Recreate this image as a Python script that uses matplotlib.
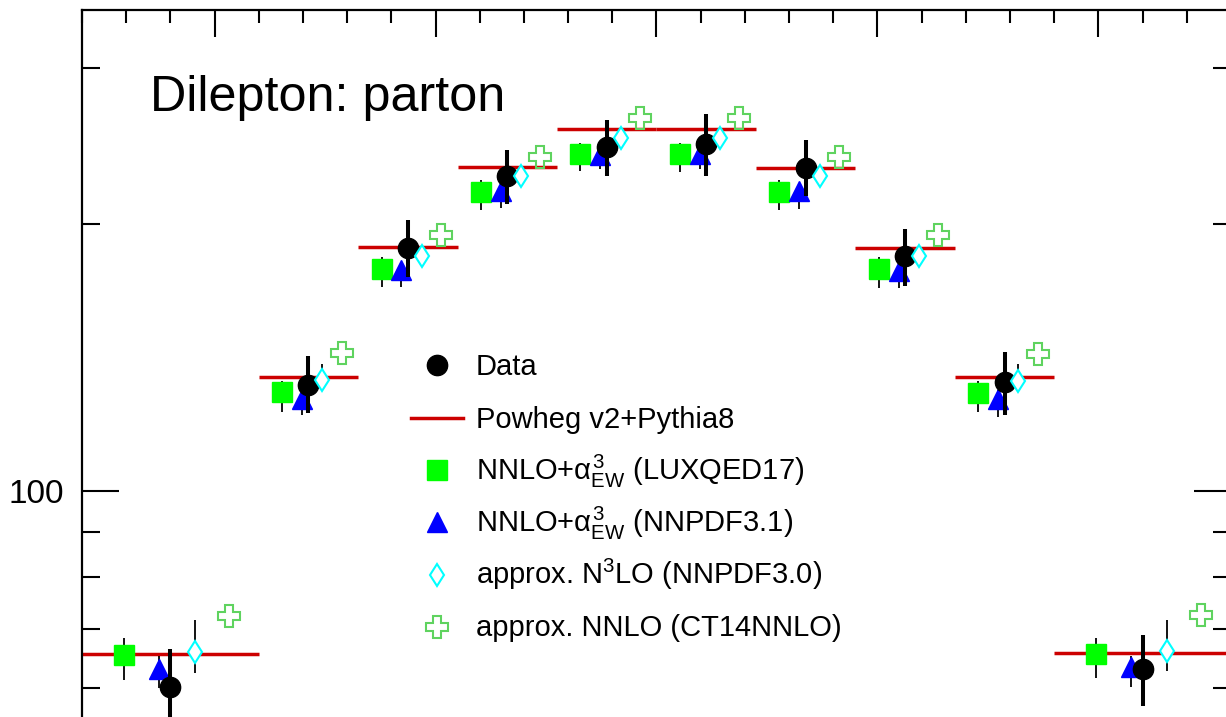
import numpy as np
import matplotlib
matplotlib.use("Agg")
import matplotlib.pyplot as plt
from matplotlib.lines import Line2D
from matplotlib.ticker import LogLocator, NullFormatter, FixedLocator, MultipleLocator

# ---------------- data ----------------
bin_edges = [-2.6, -1.8, -1.35, -0.9, -0.45, 0.0, 0.45, 0.9, 1.35, 1.8, 2.6]

data = [60.1, 131.9, 188.1, 226.7, 244.6, 246.7, 231.8, 184.1, 132.8, 63.1]
data_up = [66.4, 142.0, 202.1, 242.9, 262.6, 266.7, 248.8, 197.8, 143.6, 68.8]
data_dn = [54.2, 122.4, 174.5, 210.7, 226.7, 226.8, 215.1, 170.3, 121.8, 57.3]

powheg = [65.6, 134.6, 188.6, 232.4, 256.1, 256.5, 231.8, 188.1, 134.4, 65.7]

luxqed = [65.3, 129.3, 178.3, 217.6, 240.4, 240.4, 217.6, 178.3, 129.2, 65.5]
luxqed_up = [68.4, 133.1, 183.8, 224.3, 246.9, 246.9, 224.7, 183.8, 133.1, 68.4]
luxqed_dn = [61.3, 122.8, 169.9, 207.4, 229.6, 229.2, 207.4, 169.7, 122.7, 61.5]

nnpdf31 = [63.1, 127.2, 177.6, 217.9, 239.3, 239.9, 217.9, 177.0, 127.1, 63.3]
nnpdf31_up = [65.2, 130.0, 181.3, 222.6, 243.7, 244.4, 222.6, 180.8, 130.0, 65.2]
nnpdf31_dn = [60.0, 121.8, 169.9, 208.5, 230.8, 230.8, 208.4, 169.7, 121.3, 60.1]

n3lo = [65.9, 133.4, 184.3, 226.9, 250.1, 250.0, 226.7, 184.3, 133.2, 66.1]
n3lo_up = [71.5, 139.1, 188.5, 232.0, 255.4, 255.4, 232.0, 188.5, 139.1, 71.6]
n3lo_dn = [62.4, 130.3, 180.3, 222.0, 245.0, 245.0, 222.0, 180.3, 130.2, 62.7]

ct14 = [72.3, 143.2, 194.8, 238.3, 263.3, 263.3, 238.3, 194.8, 143.0, 72.5]

labels = ["Data", "Powheg v2+Pythia8",
          r"NNLO+$\alpha^{3}_{EW}$ (LUXQED17)",
          r"NNLO+$\alpha^{3}_{EW}$ (NNPDF3.1)",
          r"approx. N$^{3}$LO (NNPDF3.0)",
          "approx. NNLO (CT14NNLO)"]
title = "Dilepton: parton"
y_label_ticks = [100]
y_label_text = ["100"]

# ---------------- style ----------------
plt.rcParams['font.family'] = ['Liberation Sans', 'DejaVu Sans']
plt.rcParams['mathtext.fontset'] = 'custom'
plt.rcParams['mathtext.rm'] = 'Liberation Sans'
plt.rcParams['mathtext.it'] = 'Liberation Sans'
plt.rcParams['mathtext.bf'] = 'Liberation Sans:bold'

W, H = 1226, 717
fig = plt.figure(figsize=(W / 100, H / 100), dpi=100)

# axes geometry in pixels
ax_left_px, ax_right_px, ax_top_px = 82, 1231, 10
ymin, ymax = 40.0, 349.0
px_per_decade = 886.6
ax_bottom_px = ax_top_px + px_per_decade * np.log10(ymax / ymin)
ax = fig.add_axes([ax_left_px / W, 1 - ax_bottom_px / H,
                   (ax_right_px - ax_left_px) / W, (ax_bottom_px - ax_top_px) / H])
ax.set_yscale('log')
ax.set_xlim(bin_edges[0], bin_edges[-1])
ax.set_ylim(ymin, ymax)

for s in ax.spines.values():
    s.set_linewidth(1.6)

ax.xaxis.set_major_locator(MultipleLocator(1.0))
ax.xaxis.set_minor_locator(MultipleLocator(0.2))
ax.tick_params(axis='x', which='both', direction='in', top=True, bottom=True,
               labelbottom=False, labeltop=False, width=1.5)
ax.tick_params(axis='x', which='major', length=19.5)
ax.tick_params(axis='x', which='minor', length=9.5)

ax.yaxis.set_major_locator(FixedLocator(y_label_ticks))
ax.set_yticklabels(y_label_text)
ax.yaxis.set_minor_locator(LogLocator(base=10, subs=np.arange(2, 10)))
ax.yaxis.set_minor_formatter(NullFormatter())
ax.tick_params(axis='y', which='both', direction='in', left=True, right=True,
               labelright=False, width=1.5, labelsize=24, pad=13)
ax.tick_params(axis='y', which='major', length=26.6)
ax.tick_params(axis='y', which='minor', length=13)

edges = np.array(bin_edges)
centers = 0.5 * (edges[:-1] + edges[1:])
widths = edges[1:] - edges[:-1]

def asym(v, up, dn):
    v = np.array(v); return [v - np.array(dn), np.array(up) - v]

red = '#cc0000'
green = '#00ff00'
blue = '#0000ff'
cyan = '#00ffff'
lgreen = '#5fd35f'

sty_data = dict(fmt='o', ms=14.6, mfc='black', mec='black', color='black')
sty_lux = dict(fmt='s', ms=14.6, mfc=green, mec=green, color=green)
sty_nn = dict(fmt='^', ms=14.2, mfc=blue, mec=blue, color=blue)
sty_n3 = dict(fmt='d', ms=11.6, mfc='white', mec=cyan, mew=1.5, color=cyan)
sty_ct = dict(fmt='P', ms=16.0, mfc='none', mec=lgreen, mew=1.5, color=lgreen)

ax.hlines(powheg, edges[:-1], edges[1:], colors=red, linewidth=2.5, zorder=2)

ax.errorbar(centers - 0.265 * widths, luxqed, yerr=asym(luxqed, luxqed_up, luxqed_dn),
            ecolor='black', elinewidth=1.3, capsize=0, zorder=3, **sty_lux)
ax.errorbar(centers - 0.065 * widths, nnpdf31, yerr=asym(nnpdf31, nnpdf31_up, nnpdf31_dn),
            ecolor='black', elinewidth=1.3, capsize=0, zorder=4, **sty_nn)
ax.errorbar(centers, data, yerr=asym(data, data_up, data_dn),
            ecolor='black', elinewidth=2.9, capsize=0, zorder=5, **sty_data)
ax.errorbar(centers + 0.14 * widths, n3lo, yerr=asym(n3lo, n3lo_up, n3lo_dn),
            ecolor='black', elinewidth=1.3, capsize=0, zorder=6, **sty_n3)
ax.plot(centers + 0.333 * widths, ct14, linestyle='none', zorder=7,
        marker='P', ms=16.0, mfc='none', mec=lgreen, mew=1.5)

# title
fig.text(150 / W, 1 - 111 / H, title, fontsize=36.3, va='baseline', ha='left')

# legend (manual)
leg_marker_x = 437
leg_text_x = 476
leg_base = [375, 427.5, 479.5, 532, 584.5, 636.5]
styles = [sty_data, None, sty_lux, sty_nn, sty_n3, sty_ct]
for i, (lab, st) in enumerate(zip(labels, styles)):
    yb = leg_base[i]
    ym = yb - 10
    if st is None:
        fig.add_artist(Line2D([411 / W, 463 / W], [1 - ym / H, 1 - ym / H],
                              color=red, linewidth=2.5, transform=fig.transFigure))
    else:
        kw = {k: v for k, v in st.items() if k not in ('fmt', 'color')}
        fig.add_artist(Line2D([leg_marker_x / W], [1 - ym / H], marker=st['fmt'],
                              linestyle='none', transform=fig.transFigure, **kw))
    fig.text(leg_text_x / W, 1 - yb / H, lab, fontsize=21.0, va='baseline', ha='left')

fig.savefig('out.png', dpi=100)
